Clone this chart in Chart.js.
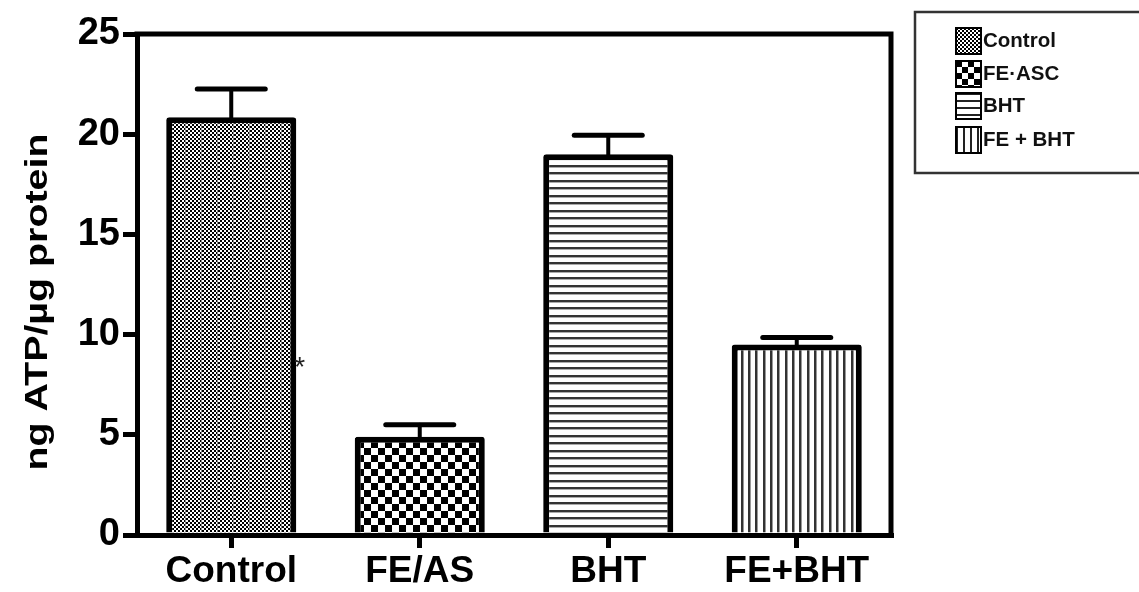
<!DOCTYPE html>
<html>
<head>
<meta charset="utf-8">
<title>ATP content</title>
<script src="https://cdn.jsdelivr.net/npm/chart.js@4/dist/chart.umd.min.js"></script>
<style>
  html, body { margin: 0; padding: 0; background: #fff; }
  canvas { display: block; }
</style>
</head>
<body>
<canvas id="c" width="1139" height="592"></canvas>
<script>
// Treatment groups and measured ATP (mean and SEM)
const categories = ['Control', 'FE/AS', 'BHT', 'FE+BHT'];
const meanATP = [20.85, 4.9, 19.0, 9.5];
const semATP = [1.4, 0.6, 0.95, 0.35];
const yTicks = [0, 5, 10, 15, 20, 25];
const yTitle = 'ng ATP/\u00B5g protein';
const legendLabels = ['Control', 'FE\u00B7ASC', 'BHT', 'FE + BHT'];
// significance marker beside the Control bar
const markText = '*';
const markValue = 8.6;

const FONT = "'Liberation Sans', Arial, sans-serif";

function tile(w, h, draw) {
  const cv = document.createElement('canvas');
  cv.width = w; cv.height = h;
  const g = cv.getContext('2d');
  g.fillStyle = '#fff';
  g.fillRect(0, 0, w, h);
  draw(g);
  return cv;
}

// fine dotted checker with a faint vertical banding
const fineChecker = tile(16, 4, g => {
  g.fillStyle = '#000';
  for (let x = 0; x < 16; x += 4) {
    g.fillRect(x, 0, 2, 2);
    g.fillRect(x + 2, 2, 2, 2);
  }
  g.fillStyle = '#8a8a8a';
  g.fillRect(9, 0, 1, 4);
});
// coarse checkerboard
const coarseChecker = (s) => tile(2 * s, 2 * s, g => {
  g.fillStyle = '#000';
  g.fillRect(0, 0, s, s);
  g.fillRect(s, s, s, s);
});
// horizontal lines
const hLines = tile(4, 15, g => {
  g.fillStyle = '#333';
  g.fillRect(0, 0, 4, 2);
  g.fillRect(0, 7, 4, 2);
  g.fillStyle = '#aaa';
  g.fillRect(0, 2, 4, 1);
  g.fillRect(0, 9, 4, 1);
});
// vertical lines
const vLines = tile(22, 4, g => {
  g.fillStyle = '#333';
  g.fillRect(0, 0, 2, 4);
  g.fillRect(7, 0, 2, 4);
  g.fillRect(15, 0, 2, 4);
  g.fillStyle = '#999';
  g.fillRect(2, 0, 1, 4);
  g.fillRect(9, 0, 1, 4);
  g.fillRect(17, 0, 1, 4);
});

const ctx = document.getElementById('c').getContext('2d');
const barPatterns = [
  ctx.createPattern(fineChecker, 'repeat'),
  ctx.createPattern(coarseChecker(7), 'repeat'),
  ctx.createPattern(hLines, 'repeat'),
  ctx.createPattern(vLines, 'repeat')
];

// error bars: stem from bar top to mean+SEM with a cap
const errorBars = {
  id: 'errorBars',
  afterDatasetsDraw(chart) {
    const meta = chart.getDatasetMeta(0);
    const y = chart.scales.y;
    const c = chart.ctx;
    c.save();
    c.strokeStyle = '#000';
    c.lineCap = 'round';
    meta.data.forEach((bar, i) => {
      const top = y.getPixelForValue(meanATP[i] + semATP[i]);
      c.lineWidth = 4;
      c.beginPath();
      c.moveTo(bar.x, bar.y);
      c.lineTo(bar.x, top);
      c.stroke();
      c.lineWidth = 5;
      c.beginPath();
      c.moveTo(bar.x - 34, top);
      c.lineTo(bar.x + 34, top);
      c.stroke();
    });
    c.restore();
  }
};

// closes the plot frame (top and right edges), the marker and the y-axis title
const frame = {
  id: 'frame',
  afterDraw(chart) {
    const a = chart.chartArea;
    const c = chart.ctx;
    c.save();
    c.strokeStyle = '#000';
    c.lineWidth = 5;
    c.beginPath();
    c.moveTo(a.left - 2.5, a.top);
    c.lineTo(a.right, a.top);
    c.lineTo(a.right, a.bottom + 2.5);
    c.stroke();

    const bar = chart.getDatasetMeta(0).data[0];
    c.fillStyle = '#222';
    c.font = '28px ' + FONT;
    c.textAlign = 'left';
    c.textBaseline = 'middle';
    c.fillText(markText, bar.x + bar.width / 2 - 2, chart.scales.y.getPixelForValue(markValue) + 6);

    // y-axis title, set wide along the axis
    c.font = 'bold 32px ' + FONT;
    const natural = c.measureText(yTitle).width;
    c.translate(38, 302);
    c.rotate(-Math.PI / 2);
    c.scale(337 / natural, 1);
    c.fillStyle = '#000';
    c.textAlign = 'center';
    c.textBaseline = 'middle';
    c.fillText(yTitle, 0, 0);
    c.restore();
  }
};

// boxed legend at the right
const boxLegend = {
  id: 'boxLegend',
  afterDraw(chart) {
    const c = chart.ctx;
    c.save();
    c.strokeStyle = '#333';
    c.lineWidth = 2.5;
    c.strokeRect(915, 12, 240, 161);

    const patches = [
      c.createPattern(tile(4, 4, g => { g.fillStyle = '#000'; g.fillRect(0, 0, 2, 2); g.fillRect(2, 2, 2, 2); }), 'repeat'),
      c.createPattern(coarseChecker(6), 'repeat'),
      c.createPattern(tile(4, 7, g => { g.fillStyle = '#222'; g.fillRect(0, 0, 4, 2); }), 'repeat'),
      c.createPattern(tile(7, 4, g => { g.fillStyle = '#222'; g.fillRect(0, 0, 2, 4); }), 'repeat')
    ];
    const rowY = [41, 74, 106, 140];
    legendLabels.forEach((lab, i) => {
      const px = 956, py = rowY[i] - 13, w = 25, h = 26;
      c.save();
      c.translate(px, py);
      c.fillStyle = patches[i];
      c.fillRect(0, 0, w, h);
      c.restore();
      c.lineWidth = 2;
      c.strokeStyle = '#000';
      c.strokeRect(px, py, w, h);
      c.fillStyle = '#111';
      c.font = 'bold 20.5px ' + FONT;
      c.textAlign = 'left';
      c.textBaseline = 'middle';
      c.fillText(lab, 983, rowY[i]);
    });
    c.restore();
  }
};

new Chart(ctx, {
  type: 'bar',
  data: {
    labels: categories,
    datasets: [{
      data: meanATP,
      backgroundColor: barPatterns,
      borderColor: '#000',
      borderWidth: 6,
      borderRadius: 3,
      borderSkipped: 'bottom',
      barPercentage: 0.69,
      categoryPercentage: 1.0
    }]
  },
  options: {
    responsive: false,
    animation: false,
    events: [],
    layout: { padding: { top: 34, right: 248, left: 0, bottom: 0 } },
    plugins: {
      legend: { display: false },
      tooltip: { enabled: false },
      title: { display: false }
    },
    scales: {
      x: {
        offset: true,
        grid: {
          drawOnChartArea: false,
          offset: false,
          color: '#000',
          lineWidth: 5,
          tickLength: 13,
          tickWidth: 5,
          tickColor: '#000'
        },
        border: { display: true, color: '#000', width: 5 },
        ticks: {
          color: '#000',
          font: { family: FONT, size: 37, weight: 'bold' },
          padding: 2
        },
        afterFit(scale) { scale.height = 57; }
      },
      y: {
        min: 0,
        max: 25,
        afterBuildTicks(scale) { scale.ticks = yTicks.map(v => ({ value: v })); },
        grid: {
          drawOnChartArea: false,
          color: '#000',
          lineWidth: 5,
          tickLength: 14,
          tickWidth: 5,
          tickColor: '#000'
        },
        border: { display: true, color: '#000', width: 5 },
        ticks: {
          color: '#000',
          font: { family: FONT, size: 38, weight: 'bold' },
          padding: 3
        },
        title: { display: false },
        afterFit(scale) { scale.width = 137; }
      }
    }
  },
  plugins: [errorBars, frame, boxLegend]
});
</script>
</body>
</html>
